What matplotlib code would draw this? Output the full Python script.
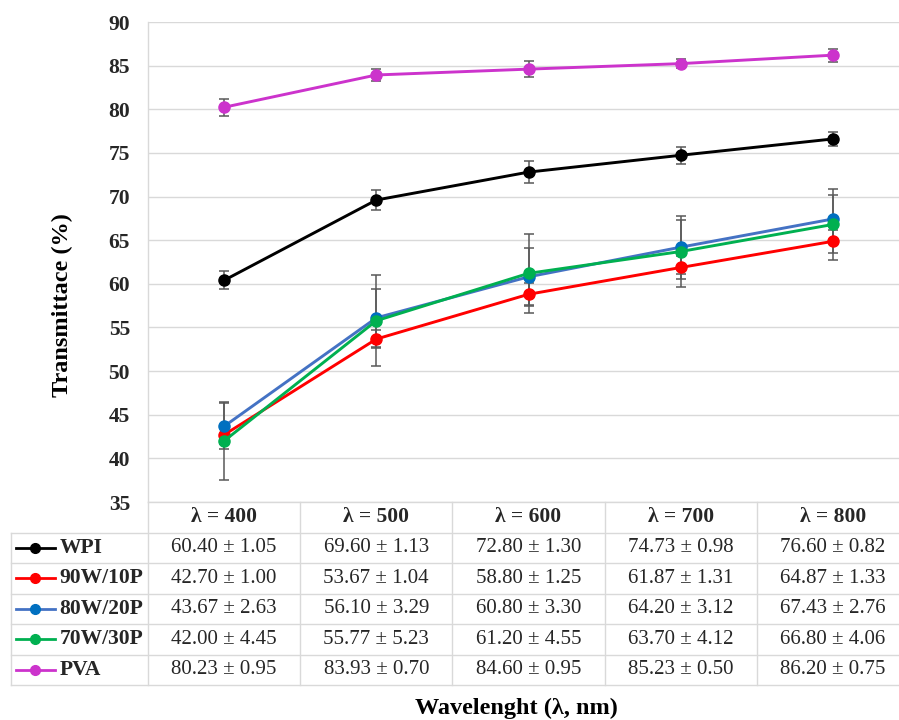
import matplotlib
matplotlib.use("Agg")
import matplotlib.pyplot as plt

# Transmittance data (mean ± SD) at each wavelength
wavelengths = [400, 500, 600, 700, 800]
series_names = ["WPI", "90W/10P", "80W/20P", "70W/30P", "PVA"]
wpi_mean = [60.40, 69.60, 72.80, 74.73, 76.60]
wpi_sd = [1.05, 1.13, 1.30, 0.98, 0.82]
w90_mean = [42.70, 53.67, 58.80, 61.87, 64.87]
w90_sd = [1.00, 1.04, 1.25, 1.31, 1.33]
w80_mean = [43.67, 56.10, 60.80, 64.20, 67.43]
w80_sd = [2.63, 3.29, 3.30, 3.12, 2.76]
w70_mean = [42.00, 55.77, 61.20, 63.70, 66.80]
w70_sd = [4.45, 5.23, 4.55, 4.12, 4.06]
pva_mean = [80.23, 83.93, 84.60, 85.23, 86.20]
pva_sd = [0.95, 0.70, 0.95, 0.50, 0.75]

means = [wpi_mean, w90_mean, w80_mean, w70_mean, pva_mean]
sds = [wpi_sd, w90_sd, w80_sd, w70_sd, pva_sd]
line_colors = ["#000000", "#ff0000", "#4472c4", "#00b050", "#cc33cc"]
marker_colors = ["#000000", "#ff0000", "#0070c0", "#00b050", "#cc33cc"]
y_ticks = [35, 40, 45, 50, 55, 60, 65, 70, 75, 80, 85, 90]

serif = "Liberation Serif"
grid_c = "#d9d9d9"
text_c = "#262626"

W, H = 899, 720
fig = plt.figure(figsize=(W / 100, H / 100), dpi=100)

# plot area in pixel terms
left_px, right_px, top_px, bottom_px = 148, 909, 22, 502
tab_bottom_px = 685
ax = fig.add_axes([left_px / W, (H - bottom_px) / H,
                   (right_px - left_px) / W, (bottom_px - top_px) / H])
ax.set_xlim(350, 850)
ax.set_ylim(35, 90)
ax.set_yticks(y_ticks)
ax.set_xticks([])
ax.yaxis.grid(True, color=grid_c, linewidth=1.0)
ax.set_axisbelow(True)
for s in ["top", "right", "bottom"]:
    ax.spines[s].set_visible(False)
ax.spines["left"].set_color(grid_c)
ax.spines["left"].set_linewidth(1.0)
ax.tick_params(axis="y", length=0, pad=13)
for lbl in ax.get_yticklabels():
    lbl.set_fontfamily(serif)
    lbl.set_fontweight("bold")
    lbl.set_fontsize(15.5)
    lbl.set_color(text_c)

for i, name in enumerate(series_names):
    ax.errorbar(wavelengths, means[i], yerr=sds[i], fmt="none",
                ecolor="#595959", elinewidth=1.1, capsize=3.4, capthick=1.1,
                zorder=2 + i * 0.1)
for i, name in enumerate(series_names):
    ax.plot(wavelengths, means[i], color=line_colors[i], linewidth=2.1,
            marker="o", markersize=8, markerfacecolor=marker_colors[i],
            markeredgecolor=marker_colors[i], zorder=3 + i * 0.1)

# data table below the plot
tab = fig.add_axes([left_px / W, (H - tab_bottom_px) / H,
                    (right_px - left_px) / W, (tab_bottom_px - bottom_px) / H])
tab.set_xlim(350, 850)
tab.set_ylim(6, 0)
tab.axis("off")
leg_left = 350 - (left_px - 11) / ((right_px - left_px) / 500)
lw_tab = 1.0

# horizontal rules
tab.plot([350, 850], [0, 0], color=grid_c, lw=lw_tab, clip_on=False)
for r in range(1, 7):
    tab.plot([leg_left, 850], [r, r], color=grid_c, lw=lw_tab, clip_on=False)
# vertical rules
tab.plot([leg_left, leg_left], [1, 6], color=grid_c, lw=lw_tab, clip_on=False)
for c in range(5):
    x0 = 350 + 100 * c
    tab.plot([x0, x0], [0, 6], color=grid_c, lw=lw_tab, clip_on=False)

for j, wl in enumerate(wavelengths):
    tab.text(wl, 0.5, f"λ = {wl}", ha="center", va="center",
             fontfamily=serif, fontweight="bold", fontsize=15.5, color=text_c)

for i, name in enumerate(series_names):
    yc = i + 1.5
    tab.plot([leg_left + 3.3, leg_left + 29], [yc, yc], color=line_colors[i],
             lw=2.0, clip_on=False)
    tab.plot([leg_left + 16], [yc], marker="o", markersize=7,
             color=marker_colors[i], clip_on=False)
    tab.text(leg_left + 32, yc, name, ha="left", va="center",
             fontfamily=serif, fontweight="bold", fontsize=15.5, color=text_c)
    for j, wl in enumerate(wavelengths):
        tab.text(wl, yc, f"{means[i][j]:.2f} ± {sds[i][j]:.2f}",
                 ha="center", va="center", fontfamily=serif,
                 fontsize=15, color=text_c)

fig.text(62 / W, (H - 305) / H, "Transmittace (%)", rotation=90,
         ha="center", va="center", fontfamily=serif, fontweight="bold",
         fontsize=17.5, color="#000000")
fig.text(516 / W, (H - 708) / H, "Wavelenght (λ, nm)", ha="center",
         va="center", fontfamily=serif, fontweight="bold", fontsize=17.5,
         color="#000000")

fig.savefig("out.png", dpi=100)
